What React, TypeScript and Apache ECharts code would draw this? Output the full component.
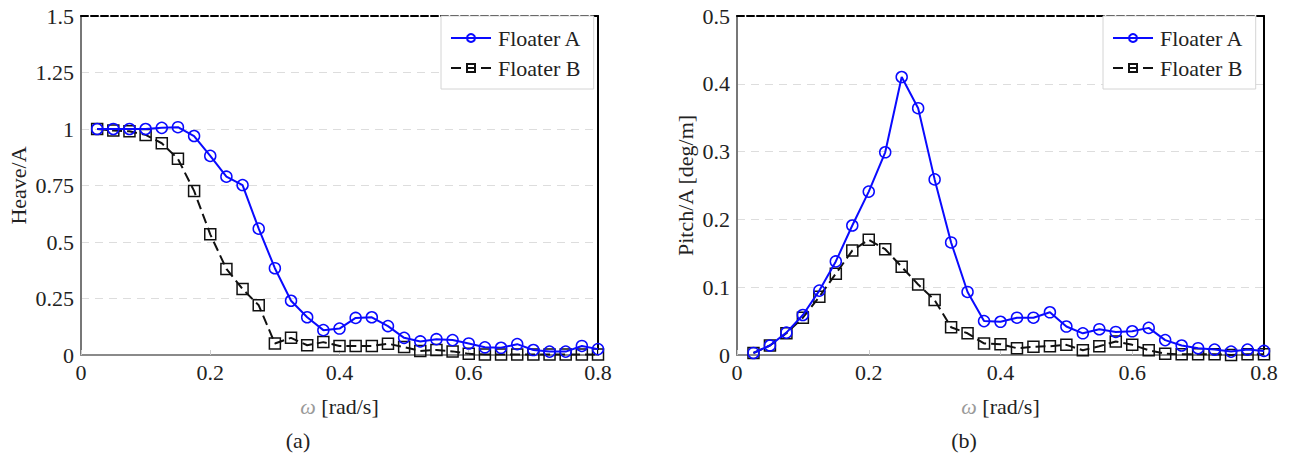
import React, { useEffect, useRef } from "react";
import * as echarts from "echarts";

const omega = [
  0.025, 0.05, 0.075, 0.1, 0.125, 0.15, 0.175, 0.2, 0.225, 0.25, 0.275, 0.3, 0.325, 0.35, 0.375, 0.4,
  0.425, 0.45, 0.475, 0.5, 0.525, 0.55, 0.575, 0.6, 0.625, 0.65, 0.675, 0.7, 0.725, 0.75, 0.775, 0.8,
];

const heaveA = [
  1.0, 1.0, 1.0, 1.0, 1.005, 1.008, 0.969, 0.881, 0.789, 0.752, 0.559, 0.384, 0.24, 0.167, 0.11, 0.117,
  0.164, 0.167, 0.128, 0.076, 0.06, 0.07, 0.066, 0.051, 0.034, 0.032, 0.048, 0.022, 0.015, 0.015, 0.04, 0.026,
];
const heaveB = [
  1.0, 0.993, 0.99, 0.974, 0.937, 0.868, 0.726, 0.534, 0.381, 0.292, 0.22, 0.051, 0.076, 0.043, 0.057, 0.04,
  0.04, 0.04, 0.05, 0.035, 0.018, 0.022, 0.016, 0.005, 0.002, 0.002, 0.002, 0.002, 0.002, 0.002, 0.002, 0.002,
];
const pitchA = [
  0.003, 0.014, 0.033, 0.059, 0.095, 0.138, 0.191, 0.241, 0.299, 0.41, 0.364, 0.259, 0.166, 0.093, 0.05, 0.049,
  0.055, 0.055, 0.063, 0.042, 0.032, 0.038, 0.034, 0.035, 0.04, 0.022, 0.014, 0.01, 0.008, 0.005, 0.008, 0.006,
];
const pitchB = [
  0.003, 0.014, 0.032, 0.055, 0.086, 0.12, 0.154, 0.17, 0.156, 0.13, 0.104, 0.081, 0.041, 0.032, 0.017, 0.016,
  0.01, 0.012, 0.013, 0.015, 0.007, 0.013, 0.02, 0.015, 0.007, 0.002, 0.001, 0.001, 0.001, 0.0, 0.001, 0.001,
];

const xTicks = [0, 0.2, 0.4, 0.6, 0.8];
const heaveTicks = [0, 0.25, 0.5, 0.75, 1, 1.25, 1.5];
const pitchTicks = [0, 0.1, 0.2, 0.3, 0.4, 0.5];
const seriesNames = ["Floater A", "Floater B"];
const captions = ["(a)", "(b)"];
const yNames = ["Heave/A", "Pitch/A [deg/m]"];

const FONT = '"Liberation Serif", "Times New Roman", serif';
const FS = 22;
const BLUE = "#0a0aff";
const BLACK = "#111111";

function pairs(vals: number[]) {
  return omega.map((w, i) => [w, vals[i]]);
}

function buildOption() {
  const grids = [
    { left: 81, top: 16, width: 517, height: 339 },
    { left: 737, top: 16, width: 527, height: 339 },
  ];
  const yTickSets = [heaveTicks, pitchTicks];
  const yNameGaps = [52, 41];

  const xAxes: any[] = [];
  const yAxes: any[] = [];
  grids.forEach((_, g) => {
    const xmin = xTicks[0];
    const xmax = xTicks[xTicks.length - 1];
    xAxes.push({
      type: "value",
      gridIndex: g,
      position: "bottom",
      min: xmin,
      max: xmax,
      interval: xTicks[1] - xTicks[0],
      axisLine: { show: true, onZero: false, lineStyle: { color: "#8a8a8a", width: 2 } },
      axisTick: { show: true, inside: true, length: 5, lineStyle: { color: "#cccccc", width: 1 } },
      axisLabel: { fontSize: FS, fontFamily: FONT, color: "#222", margin: 6 },
      splitLine: { show: false },
      name: "{w|ω} [rad/s]",
      nameLocation: "middle",
      nameGap: 40,
      nameTextStyle: {
        fontSize: FS,
        fontFamily: FONT,
        color: "#222",
        rich: { w: { fontSize: FS, fontFamily: FONT, fontStyle: "italic", color: "#9a9a9a" } },
      },
    });
    xAxes.push({
      type: "value",
      gridIndex: g,
      position: "top",
      min: xmin,
      max: xmax,
      interval: xTicks[1] - xTicks[0],
      axisLine: { show: true, onZero: false, lineStyle: { color: "#000", width: 2, type: [7, 3] } },
      axisTick: { show: false },
      axisLabel: { show: false },
      splitLine: { show: false },
    });
    const ticks = yTickSets[g];
    const ymin = ticks[0];
    const ymax = ticks[ticks.length - 1];
    const yint = ticks[1] - ticks[0];
    yAxes.push({
      type: "value",
      gridIndex: g,
      position: "left",
      min: ymin,
      max: ymax,
      interval: yint,
      axisLine: { show: true, onZero: false, lineStyle: { color: "#777", width: 2 } },
      axisTick: { show: false },
      axisLabel: { fontSize: FS, fontFamily: FONT, color: "#222", margin: 7 },
      splitLine: { show: true, lineStyle: { color: "#dddddd", width: 1.2, type: [8, 6] } },
      name: yNames[g],
      nameLocation: "middle",
      nameGap: yNameGaps[g],
      nameTextStyle: { fontSize: FS, fontFamily: FONT, color: "#222" },
    });
    yAxes.push({
      type: "value",
      gridIndex: g,
      position: "right",
      min: ymin,
      max: ymax,
      interval: yint,
      axisLine: { show: true, onZero: false, lineStyle: { color: "#000", width: 2 } },
      axisTick: { show: false },
      axisLabel: { show: false },
      splitLine: { show: false },
    });
  });

  const dataSets = [
    [heaveA, heaveB],
    [pitchA, pitchB],
  ];
  const series: any[] = [];
  dataSets.forEach((set, g) => {
    series.push({
      name: seriesNames[0],
      type: "line",
      xAxisIndex: g * 2,
      yAxisIndex: g * 2,
      data: pairs(set[0]),
      symbol: "circle",
      symbolSize: 11,
      color: BLUE,
      lineStyle: { color: BLUE, width: 2 },
      itemStyle: { color: "rgba(255,255,255,0)", borderColor: BLUE, borderWidth: 1.5 },
      z: 3,
    });
    series.push({
      name: seriesNames[1],
      type: "line",
      xAxisIndex: g * 2,
      yAxisIndex: g * 2,
      data: pairs(set[1]),
      symbol: "rect",
      symbolSize: 11,
      color: BLACK,
      lineStyle: { color: BLACK, width: 2, type: [10, 5] },
      itemStyle: { color: "rgba(255,255,255,0)", borderColor: BLACK, borderWidth: 1.5 },
      z: 2,
    });
  });

  const legendLefts = [441, 1103];
  const legends = legendLefts.map((left) => ({
    left,
    top: 16,
    orient: "vertical",
    data: seriesNames,
    itemWidth: 40,
    itemHeight: 10,
    itemGap: 8,
    padding: [11, 12, 10, 9],
    backgroundColor: "#ffffff",
    borderColor: "#d4d4d4",
    borderWidth: 1,
    borderRadius: 0,
    selectedMode: false,
    textStyle: { fontSize: FS, fontFamily: FONT, color: "#222", padding: [0, 0, 0, 2] },
  }));

  const captionX = [298, 964];
  const graphic = captions.map((t, i) => ({
    type: "text",
    x: captionX[i],
    y: 440,
    style: {
      text: t,
      font: `${FS}px ${FONT}`,
      fill: "#222",
      textAlign: "center",
      textVerticalAlign: "middle",
    },
  }));

  return {
    animation: false,
    backgroundColor: "#ffffff",
    grid: grids,
    xAxis: xAxes,
    yAxis: yAxes,
    series,
    legend: legends,
    graphic,
  };
}

export default function App() {
  const ref = useRef<HTMLDivElement>(null);
  useEffect(() => {
    if (!ref.current) return;
    const chart = echarts.init(ref.current, undefined, { renderer: "svg" });
    chart.setOption(buildOption() as any);
    return () => chart.dispose();
  }, []);
  return (
    <div
      ref={ref}
      style={{ position: "absolute", left: 0, top: 0, width: 1301, height: 457, background: "#fff" }}
    />
  );
}
